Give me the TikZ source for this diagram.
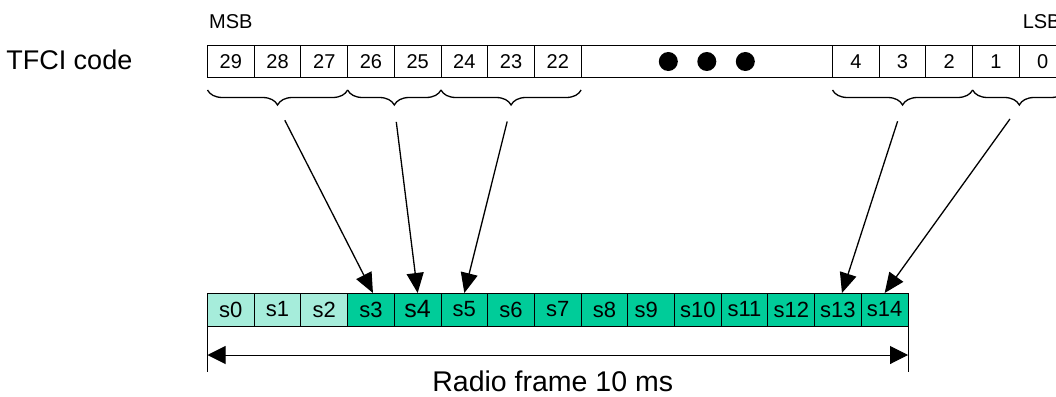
\documentclass[tikz,border=0pt]{standalone}
\usepackage{fontspec}
\setmainfont{Liberation Sans}
\usetikzlibrary{positioning,decorations.pathreplacing,arrows.meta,calc}

\definecolor{slotgreen}{RGB}{0,204,153}

\begin{document}
\begin{tikzpicture}[x=1pt, y=1pt]
        \useasboundingbox (0,0) rectangle (1056,-396);
        \tikzstyle{bit}=[draw, line width=1pt, minimum width=46.7pt, minimum height=31pt, inner sep=0pt, font=\fontsize{20}{20}\selectfont]
        \tikzstyle{slot}=[draw, line width=1pt, fill=slotgreen, minimum width=46.7pt, minimum height=33pt, inner sep=0pt, font=\fontsize{22}{22}\selectfont]
        \tikzstyle{paleslot}=[slot, fill=slotgreen!35]
        \tikzstyle{group}=[decorate, decoration={brace, mirror, amplitude=15pt}, line width=1.3pt]
        \tikzstyle{map}=[-{Triangle[length=20pt, width=17pt]}, line width=1.3pt, shorten <=16pt]
        \tikzstyle{label}=[inner sep=0pt, font=\fontsize{20}{20}\selectfont]

        % TFCI code word, MSB first
        \matrix (code) [draw=none, inner sep=0pt, outer sep=0pt, column sep=-1pt, anchor=west] at (207,-61.5) {
            \node (b29) [bit] {29}; &
            \node (b28) [bit] {28}; &
            \node (b27) [bit] {27}; &
            \node (b26) [bit] {26}; &
            \node (b25) [bit] {25}; &
            \node (b24) [bit] {24}; &
            \node (b23) [bit] {23}; &
            \node (b22) [bit] {22}; &
            \node (gap) [bit, minimum width=251.4pt] {}; &
            \node (b4)  [bit] {4}; &
            \node (b3)  [bit] {3}; &
            \node (b2)  [bit] {2}; &
            \node (b1)  [bit] {1}; &
            \node (b0)  [bit] {0}; \\
        };

        \fill ([xshift=-38.5pt]gap.center) circle (9.5pt);
        \fill (gap.center) circle (9.5pt);
        \fill ([xshift=38.5pt]gap.center) circle (9.5pt);

        \node (tfci) [left=75pt of b29, inner sep=0pt, font=\fontsize{27}{27}\selectfont, yshift=2pt] {TFCI code};
        \node (msb) [label, above=17.5pt of b29] {MSB};
        \node (lsb) [label, above=17.5pt of b0, xshift=-1pt] {LSB};

        % slots of one radio frame
        \matrix (frame) [draw=none, inner sep=0pt, outer sep=0pt, column sep=-1pt, anchor=west] at (207,-309.5) {
            \node (s0)  [paleslot] {s0}; &
            \node (s1)  [paleslot] {s1}; &
            \node (s2)  [paleslot] {s2}; &
            \node (s3)  [slot] {s3}; &
            \node (s4)  [slot, font=\fontsize{25}{25}\selectfont] {s4}; &
            \node (s5)  [slot] {s5}; &
            \node (s6)  [slot] {s6}; &
            \node (s7)  [slot] {s7}; &
            \node (s8)  [slot] {s8}; &
            \node (s9)  [slot] {s9\hspace*{10pt}}; &
            \node (s10) [slot] {s10}; &
            \node (s11) [slot] {s11}; &
            \node (s12) [slot] {s12}; &
            \node (s13) [slot] {s13}; &
            \node (s14) [slot] {s14}; \\
        };

        % groups of bits
        \draw[group] ([yshift=-13pt]b29.south west) -- ([yshift=-13pt]b27.south east);
        \draw[group] ([yshift=-13pt]b26.south west) -- ([yshift=-13pt]b25.south east);
        \draw[group] ([yshift=-13pt]b24.south west) -- ([yshift=-13pt]b22.south east);
        \draw[group] ([yshift=-13pt]b4.south west) -- ([yshift=-13pt]b2.south east);
        \draw[group] ([yshift=-13pt]b1.south west) -- ([yshift=-13pt]b0.south east);

        \coordinate (t1) at ($(b29.south west)!0.5!(b27.south east)+(0,-29)$);
        \coordinate (t2) at ($(b26.south west)!0.5!(b25.south east)+(0,-29)$);
        \coordinate (t3) at ($(b24.south west)!0.5!(b22.south east)+(0,-29)$);
        \coordinate (t4) at ($(b4.south west)!0.5!(b2.south east)+(0,-29)$);
        \coordinate (t5) at ($(b1.south west)!0.5!(b0.south east)+(0,-29)$);

        \draw[map] (t1) -- ([xshift=2pt]s3.north);
        \draw[map] (t2) -- (s4.north);
        \draw[map] (t3) -- (s5.north);
        \draw[map] (t4) -- ([xshift=4pt]s13.north);
        \draw[map] (t5) -- (s14.north);

        % frame length
        \coordinate (dl) at ([yshift=-46pt]s0.south west);
        \coordinate (dr) at ([yshift=-46pt]s14.south east);
        \draw[line width=1pt] (s0.south west) -- (dl);
        \draw[line width=1pt] (s14.south east) -- (dr);
        \draw[line width=1pt, {Triangle[length=18pt, width=18pt]}-{Triangle[length=18pt, width=18pt]}] ([yshift=17pt]dl) -- ([yshift=17pt]dr);
        \node (radio) [anchor=base, inner sep=0pt, font=\fontsize{28.5}{28.5}\selectfont, xshift=-5pt] at ($(dl)!0.5!(dr)+(0,-19)$) {Radio frame 10 ms};
    \end{tikzpicture}
\end{document}
